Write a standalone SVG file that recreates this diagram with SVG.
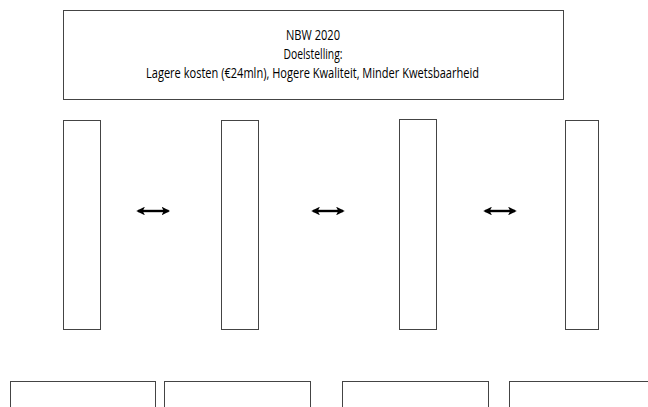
<svg xmlns="http://www.w3.org/2000/svg" width="648" height="407" viewBox="0 0 648 407">
<style>
.box{fill:#fff;stroke:#444;stroke-width:1}
.t{font-family:"Open Sans","Noto Sans",sans-serif;font-size:14.5px;fill:#000;text-anchor:middle}
.conn{stroke:#000;stroke-width:2.4;fill:none;marker-start:url(#ah);marker-end:url(#ah)}
</style>
<defs>
<marker id="ah" viewBox="0 0 10 10" refX="8" refY="5" markerWidth="3.6" markerHeight="3.6" orient="auto-start-reverse" markerUnits="strokeWidth">
<path d="M0,0 L10,5 L0,10 L2.5,5 z" fill="#000"/>
</marker>
</defs>
<rect width="648" height="407" fill="#fff"/>
<g id="goal">
<rect class="box" x="63.5" y="10.5" width="500" height="89"/>
<text class="t" x="313" y="40" textLength="54" lengthAdjust="spacingAndGlyphs">NBW 2020</text>
<text class="t" x="313" y="58.5" textLength="59" lengthAdjust="spacingAndGlyphs">Doelstelling:</text>
<text class="t" x="312.5" y="77.5" textLength="333" lengthAdjust="spacingAndGlyphs">Lagere kosten (€24mln), Hogere Kwaliteit, Minder Kwetsbaarheid</text>
</g>
<g id="col1"><rect class="box" x="63.5" y="120.5" width="37" height="209"/></g>
<g id="col2"><rect class="box" x="221.5" y="120.5" width="37" height="209"/></g>
<g id="col3"><rect class="box" x="399.5" y="119.5" width="37" height="210"/></g>
<g id="col4"><rect class="box" x="565.5" y="120.5" width="33" height="209"/></g>
<g id="bottom1"><rect class="box" x="10.5" y="381.5" width="145" height="40"/></g>
<g id="bottom2"><rect class="box" x="164.5" y="381.5" width="146" height="40"/></g>
<g id="bottom3"><rect class="box" x="342.5" y="381.5" width="146" height="40"/></g>
<g id="bottom4"><rect class="box" x="509.5" y="381.5" width="150" height="40"/></g>
<g id="connectors">
<line class="conn" x1="138" y1="211" x2="168.5" y2="211"/>
<line class="conn" x1="313" y1="211" x2="343" y2="211"/>
<line class="conn" x1="485" y1="211" x2="515" y2="211"/>
</g>
</svg>
